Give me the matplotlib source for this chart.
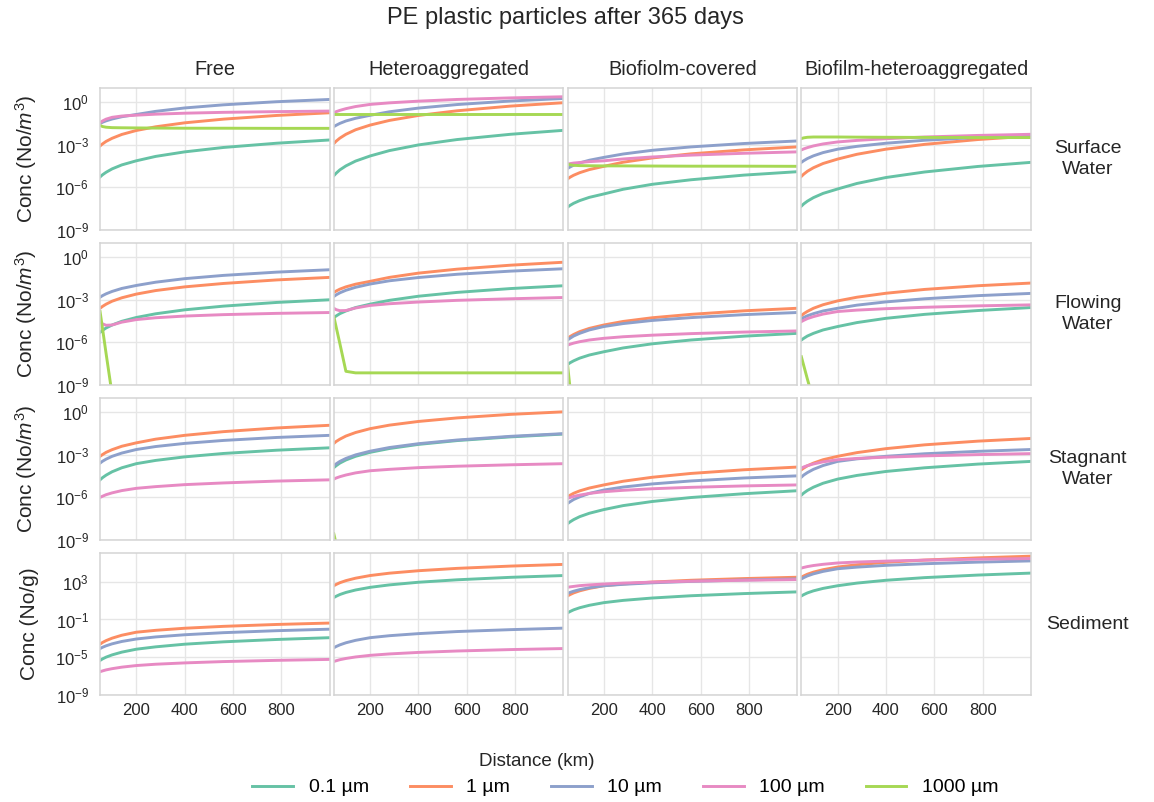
import numpy as np
import matplotlib
matplotlib.use('Agg')
import matplotlib.pyplot as plt

plt.rcParams['font.family'] = ['Liberation Sans', 'DejaVu Sans']
plt.rcParams['mathtext.fontset'] = 'custom'
plt.rcParams['mathtext.rm'] = 'Liberation Sans'
plt.rcParams['mathtext.it'] = 'Liberation Sans:italic'

# distance along the river (km) where the curves were read
distance_km = [50, 60, 75, 100, 140, 200, 280, 400, 560, 780, 1000]

size_labels = ['0.1 µm', '1 µm', '10 µm', '100 µm', '1000 µm']
size_colors = ['#66c2a5', '#fc8d62', '#8da0cb', '#e78ac3', '#a6d854']

species = ['Free', 'Heteroaggregated', 'Biofiolm-covered', 'Biofilm-heteroaggregated']
compartments = ['Surface\nWater', 'Flowing\nWater', 'Stagnant\nWater', 'Sediment']
ylabels = ['Conc (No/$m^3$)', 'Conc (No/$m^3$)', 'Conc (No/$m^3$)', 'Conc (No/g)']

# log10 of concentration, one list per particle size (order of size_labels)
surface_free = [
    [-5.28, -5.13, -4.95, -4.71, -4.43, -4.14, -3.83, -3.51, -3.20, -2.90, -2.67],
    [-3.09, -2.95, -2.77, -2.55, -2.28, -2.00, -1.74, -1.46, -1.20, -0.94, -0.75],
    [-1.50, -1.42, -1.32, -1.19, -1.03, -0.87, -0.65, -0.41, -0.19, 0.03, 0.19],
    [-1.45, -1.33, -1.20, -1.07, -0.98, -0.92, -0.85, -0.78, -0.72, -0.67, -0.63],
    [-1.64, -1.72, -1.77, -1.80, -1.81, -1.82, -1.83, -1.84, -1.84, -1.85, -1.85],
]
surface_hetero = [
    [-5.19, -5.01, -4.78, -4.50, -4.16, -3.80, -3.42, -3.02, -2.64, -2.27, -1.99],
    [-2.92, -2.75, -2.54, -2.27, -1.95, -1.62, -1.29, -0.94, -0.61, -0.28, -0.04],
    [-1.73, -1.63, -1.50, -1.33, -1.14, -0.93, -0.68, -0.42, -0.17, 0.08, 0.26],
    [-0.75, -0.67, -0.58, -0.46, -0.31, -0.16, -0.05, 0.07, 0.19, 0.30, 0.38],
    [-0.82, -0.82, -0.82, -0.82, -0.82, -0.82, -0.82, -0.82, -0.82, -0.82, -0.82],
]
surface_bio = [
    [-7.41, -7.29, -7.14, -6.95, -6.72, -6.48, -6.15, -5.80, -5.48, -5.15, -4.91],
    [-5.42, -5.30, -5.16, -4.98, -4.76, -4.53, -4.24, -3.94, -3.65, -3.37, -3.16],
    [-4.68, -4.58, -4.45, -4.29, -4.10, -3.90, -3.66, -3.40, -3.16, -2.92, -2.74],
    [-4.37, -4.34, -4.30, -4.26, -4.20, -4.14, -4.01, -3.87, -3.74, -3.61, -3.51],
    [-4.37, -4.42, -4.46, -4.48, -4.49, -4.50, -4.50, -4.51, -4.52, -4.52, -4.53],
]
surface_biohetero = [
    [-7.34, -7.18, -6.99, -6.74, -6.44, -6.13, -5.74, -5.32, -4.93, -4.54, -4.25],
    [-5.24, -5.08, -4.88, -4.63, -4.33, -4.02, -3.68, -3.32, -2.98, -2.64, -2.39],
    [-4.25, -4.13, -3.98, -3.79, -3.56, -3.32, -3.12, -2.90, -2.69, -2.49, -2.34],
    [-3.37, -3.30, -3.21, -3.09, -2.95, -2.81, -2.70, -2.58, -2.46, -2.35, -2.27],
    [-2.57, -2.52, -2.48, -2.46, -2.46, -2.46, -2.47, -2.48, -2.49, -2.50, -2.50],
]

flowing_free = [
    [-5.30, -5.16, -4.99, -4.78, -4.52, -4.25, -3.99, -3.71, -3.45, -3.19, -3.00],
    [-3.60, -3.47, -3.31, -3.10, -2.86, -2.60, -2.35, -2.09, -1.85, -1.60, -1.42],
    [-2.82, -2.71, -2.58, -2.41, -2.20, -1.99, -1.76, -1.51, -1.28, -1.05, -0.88],
    [-4.54, -4.70, -4.80, -4.78, -4.58, -4.40, -4.27, -4.15, -4.05, -3.96, -3.90],
    [-3.83, -5.00, -6.80, -9.70, -12.0, -12.0, -12.0, -12.0, -12.0, -12.0, -12.0],
]
flowing_hetero = [
    [-4.26, -4.14, -3.98, -3.79, -3.55, -3.31, -3.04, -2.75, -2.48, -2.21, -2.01],
    [-2.48, -2.38, -2.25, -2.09, -1.90, -1.70, -1.42, -1.12, -0.84, -0.56, -0.35],
    [-2.77, -2.65, -2.51, -2.33, -2.12, -1.89, -1.66, -1.43, -1.20, -0.98, -0.81],
    [-3.60, -3.70, -3.77, -3.76, -3.58, -3.40, -3.28, -3.16, -3.04, -2.93, -2.84],
    [-4.18, -4.95, -6.09, -8.05, -8.16, -8.16, -8.16, -8.16, -8.16, -8.16, -8.16],
]
flowing_bio = [
    [-7.57, -7.45, -7.31, -7.12, -6.90, -6.67, -6.40, -6.11, -5.84, -5.57, -5.37],
    [-5.72, -5.60, -5.45, -5.25, -5.02, -4.78, -4.53, -4.27, -4.03, -3.78, -3.60],
    [-5.84, -5.72, -5.56, -5.37, -5.13, -4.89, -4.68, -4.46, -4.26, -4.05, -3.90],
    [-6.20, -6.14, -6.06, -5.96, -5.84, -5.72, -5.61, -5.50, -5.39, -5.28, -5.20],
    [-7.60, -9.20, -12.0, -12.0, -12.0, -12.0, -12.0, -12.0, -12.0, -12.0, -12.0],
]
flowing_biohetero = [
    [-5.84, -5.72, -5.56, -5.37, -5.13, -4.89, -4.61, -4.31, -4.03, -3.76, -3.55],
    [-4.12, -3.98, -3.82, -3.60, -3.35, -3.08, -2.82, -2.54, -2.27, -2.01, -1.82],
    [-4.35, -4.25, -4.13, -3.98, -3.79, -3.60, -3.38, -3.15, -2.93, -2.71, -2.55],
    [-4.54, -4.45, -4.33, -4.19, -4.01, -3.83, -3.73, -3.63, -3.53, -3.43, -3.36],
    [-7.02, -7.65, -8.60, -10.1, -12.0, -12.0, -12.0, -12.0, -12.0, -12.0, -12.0],
]

stagnant_free = [
    [-4.76, -4.61, -4.43, -4.19, -3.91, -3.62, -3.39, -3.14, -2.90, -2.67, -2.50],
    [-3.10, -2.98, -2.82, -2.63, -2.39, -2.15, -1.89, -1.62, -1.36, -1.10, -0.91],
    [-3.58, -3.45, -3.30, -3.10, -2.87, -2.62, -2.41, -2.19, -1.98, -1.77, -1.62],
    [-6.00, -5.92, -5.81, -5.68, -5.52, -5.36, -5.24, -5.10, -4.98, -4.85, -4.76],
    None,
]
stagnant_hetero = [
    [-3.90, -3.76, -3.58, -3.36, -3.10, -2.82, -2.55, -2.26, -1.99, -1.73, -1.53],
    [-2.19, -2.05, -1.89, -1.67, -1.42, -1.15, -0.90, -0.64, -0.39, -0.14, 0.04],
    [-3.76, -3.63, -3.46, -3.25, -3.00, -2.74, -2.48, -2.21, -1.95, -1.69, -1.50],
    [-4.71, -4.63, -4.54, -4.42, -4.27, -4.12, -4.02, -3.90, -3.80, -3.70, -3.62],
    [-8.57, -9.30, -12.0, -12.0, -12.0, -12.0, -12.0, -12.0, -12.0, -12.0, -12.0],
]
stagnant_bio = [
    [-7.86, -7.73, -7.57, -7.36, -7.12, -6.86, -6.58, -6.29, -6.01, -5.74, -5.53],
    [-5.96, -5.85, -5.71, -5.54, -5.34, -5.12, -4.86, -4.58, -4.31, -4.05, -3.86],
    [-6.43, -6.31, -6.15, -5.96, -5.72, -5.48, -5.27, -5.05, -4.84, -4.63, -4.48],
    [-6.07, -6.01, -5.93, -5.84, -5.72, -5.60, -5.50, -5.39, -5.29, -5.19, -5.12],
    None,
]
stagnant_biohetero = [
    [-5.84, -5.69, -5.51, -5.28, -5.00, -4.71, -4.45, -4.17, -3.91, -3.65, -3.46],
    [-4.05, -3.93, -3.77, -3.58, -3.34, -3.10, -2.84, -2.56, -2.29, -2.03, -1.84],
    [-4.57, -4.42, -4.25, -4.02, -3.75, -3.46, -3.28, -3.10, -2.92, -2.75, -2.62],
    [-3.93, -3.85, -3.76, -3.64, -3.49, -3.34, -3.25, -3.16, -3.07, -2.98, -2.91],
    None,
]

sediment_free = [
    [-5.34, -5.18, -4.99, -4.75, -4.46, -4.15, -3.90, -3.62, -3.37, -3.12, -2.93],
    [-3.61, -3.44, -3.24, -2.98, -2.67, -2.35, -2.15, -1.93, -1.73, -1.53, -1.38],
    [-4.08, -3.95, -3.79, -3.58, -3.33, -3.07, -2.85, -2.62, -2.40, -2.19, -2.03],
    [-6.53, -6.45, -6.34, -6.21, -6.05, -5.88, -5.74, -5.60, -5.46, -5.33, -5.23],
    None,
]
sediment_hetero = [
    [1.32, 1.46, 1.64, 1.86, 2.12, 2.40, 2.66, 2.94, 3.20, 3.46, 3.65],
    [2.57, 2.71, 2.89, 3.11, 3.37, 3.65, 3.90, 4.16, 4.41, 4.65, 4.83],
    [-4.00, -3.86, -3.69, -3.47, -3.21, -2.93, -2.72, -2.50, -2.28, -2.08, -1.92],
    [-5.45, -5.37, -5.26, -5.13, -4.97, -4.80, -4.65, -4.49, -4.34, -4.19, -4.08],
    None,
]
sediment_bio = [
    [-0.30, -0.16, 0.02, 0.24, 0.50, 0.78, 1.02, 1.27, 1.51, 1.74, 1.92],
    [1.49, 1.63, 1.81, 2.03, 2.29, 2.57, 2.76, 2.96, 3.15, 3.33, 3.47],
    [1.75, 1.86, 1.99, 2.16, 2.36, 2.57, 2.72, 2.88, 3.03, 3.18, 3.29],
    [2.40, 2.45, 2.50, 2.58, 2.66, 2.75, 2.85, 2.95, 3.05, 3.15, 3.22],
    None,
]
sediment_biohetero = [
    [1.49, 1.63, 1.81, 2.03, 2.29, 2.57, 2.85, 3.15, 3.43, 3.70, 3.91],
    [3.47, 3.61, 3.79, 4.01, 4.27, 4.55, 4.79, 5.05, 5.29, 5.52, 5.70],
    [3.29, 3.43, 3.61, 3.83, 4.09, 4.37, 4.54, 4.73, 4.90, 5.07, 5.20],
    [4.44, 4.51, 4.60, 4.71, 4.84, 4.98, 5.08, 5.18, 5.28, 5.38, 5.45],
    None,
]

grid = [
    [surface_free, surface_hetero, surface_bio, surface_biohetero],
    [flowing_free, flowing_hetero, flowing_bio, flowing_biohetero],
    [stagnant_free, stagnant_hetero, stagnant_bio, stagnant_biohetero],
    [sediment_free, sediment_hetero, sediment_bio, sediment_biohetero],
]

fig, axes = plt.subplots(4, 4, figsize=(11.54, 8.02), dpi=100, sharex=True, sharey='row')
fig.subplots_adjust(left=0.0867, right=0.8934, top=0.8903, bottom=0.1334,
                    wspace=0.018, hspace=0.095)

for r in range(4):
    for c in range(4):
        ax = axes[r, c]
        for k, vals in enumerate(grid[r][c]):
            if vals is None:
                continue
            ax.plot(distance_km, 10.0 ** np.array(vals), color=size_colors[k],
                    lw=2.1, label=size_labels[k])
        ax.set_yscale('log')
        ax.set_xlim(50, 1000)
        ax.grid(True, color='#e6e6e6', lw=1)
        ax.set_axisbelow(True)
        for s in ax.spines.values():
            s.set_color('#d4d4d4')
            s.set_linewidth(1.1)
        ax.tick_params(length=0, labelsize=12, colors='#262626')
        ax.tick_params(axis='y', pad=8)
        ax.tick_params(axis='x', pad=6)
        if r == 0:
            ax.set_title(species[c], fontsize=14.3, pad=9, color='#262626')
    if r < 3:
        axes[r, 0].set_ylim(1e-9, 1e1)
        axes[r, 0].set_yticks([1e-9, 1e-6, 1e-3, 1e0])
    else:
        axes[r, 0].set_ylim(1e-9, 1e6)
        axes[r, 0].set_yticks([1e-9, 1e-5, 1e-1, 1e3])
    axes[r, 0].set_ylabel(ylabels[r], fontsize=15, color='#262626')
    axes[r, 0].yaxis.set_label_coords(-0.265, 0.5)
    axes[r, 3].text(1.247, 0.5, compartments[r], transform=axes[r, 3].transAxes,
                    ha='center', va='center', fontsize=14, color='#262626',
                    linespacing=1.3)

for ax in axes.flat:
    ax.minorticks_off()
axes[3, 0].set_xticks([200, 400, 600, 800])

fig.suptitle('PE plastic particles after 365 days', x=0.49, y=0.9776, va='center',
             fontsize=17, color='#262626')
fig.text(0.465, 0.05, 'Distance (km)', ha='center', va='center', fontsize=13.5,
         color='#262626')

handles, labels = axes[0, 0].get_legend_handles_labels()
fig.legend(handles, labels, loc='center', bbox_to_anchor=(0.542, 0.018), ncol=5,
           frameon=False, fontsize=14, handlelength=2.1, handletextpad=0.8,
           columnspacing=2.1)

fig.savefig('out.png', dpi=100)
